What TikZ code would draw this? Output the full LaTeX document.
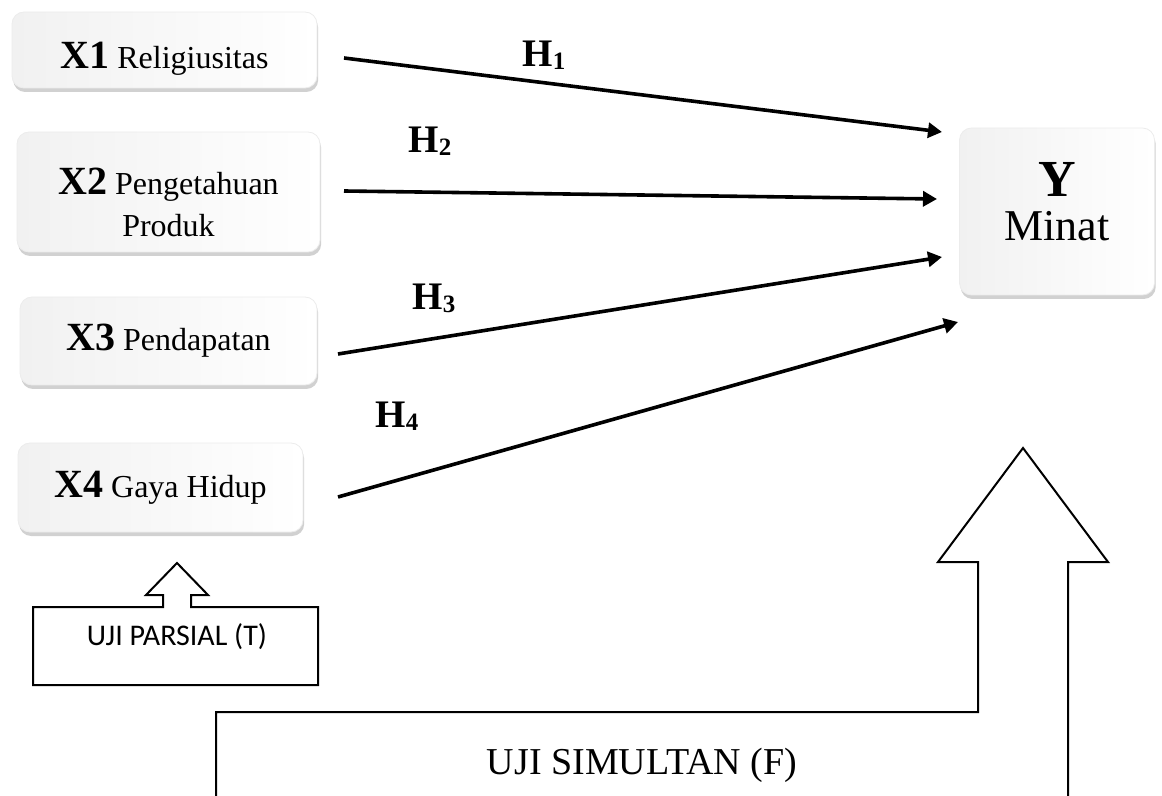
\documentclass[tikz,border=0pt]{standalone}
\usepackage{fontspec}
\setmainfont{Liberation Serif}
\newfontfamily\calibri{Carlito}
\usepackage{tikz}
\usetikzlibrary{arrows.meta,calc,shadows}

\tikzset{
    varbox/.style={rounded corners=6pt, draw=gray!15, line width=0.4pt,
        left color=gray!11, middle color=white, right color=white,
        drop shadow={shadow xshift=0.6pt, shadow yshift=-2pt, opacity=0.45, fill=gray!80},
        align=center, inner sep=0pt, font=\fontsize{16}{21}\selectfont},
    hyp/.style={line width=1.8pt, -{Triangle[length=7pt,width=7.5pt]}},
    hlabel/.style={anchor=base, font=\fontsize{19.5}{22}\selectfont\bfseries},
    outline/.style={line width=1pt, line join=miter}
}
\newcommand{\hsub}[1]{\raisebox{-1.3pt}{\fontsize{12.5}{14}\selectfont #1}}
\newcommand{\xvar}[1]{{\fontsize{20}{21}\selectfont\bfseries #1}}

\begin{document}
\begin{tikzpicture}[x=0.5pt,y=-0.5pt]
    \useasboundingbox (0,0) rectangle (1162,796);
    \node[varbox, minimum width=152.5pt, minimum height=38pt,
        text height=19pt, text depth=0pt] (x1) at (164.5,50)
        {\xvar{X1} Religiusitas};
    \node[varbox, minimum width=151.5pt, minimum height=60pt,
        text height=44.5pt] (x2) at (168.5,192)
        {\xvar{X2} Pengetahuan\\Produk};
    \node[varbox, minimum width=148.5pt, minimum height=44pt] (x3) at (168.5,341)
        {\xvar{X3} Pendapatan};
    \node[varbox, minimum width=142.5pt, minimum height=44.5pt] (x4) at (160.5,487.5)
        {\xvar{X4} Gaya Hidup};
    \node[varbox, minimum width=97.5pt, minimum height=83.5pt, text depth=10pt,
        font=\fontsize{22}{22}\selectfont] (y) at (1057,211.5)
        {{\fontsize{26}{26}\selectfont\bfseries Y}\\Minat};
    \coordinate (h1a) at (344,58);
    \coordinate (h1b) at (942,132);
    \coordinate (h2a) at (344,191);
    \coordinate (h2b) at (937,199);
    \coordinate (h3a) at (338,354);
    \coordinate (h3b) at (942,257);
    \coordinate (h4a) at (338,497);
    \coordinate (h4b) at (958,322);
    \draw[hyp] (h1a) -- (h1b);
    \draw[hyp] (h2a) -- (h2b);
    \draw[hyp] (h3a) -- (h3b);
    \draw[hyp] (h4a) -- (h4b);
    \node[hlabel] (h1) at (544,67) {H\hsub{1}};
    \node[hlabel] (h2) at (430,153) {H\hsub{2}};
    \node[hlabel] (h3) at (434,310) {H\hsub{3}};
    \node[hlabel] (h4) at (397,428) {H\hsub{4}};
    \draw[outline] (33,607) -- (163,607) -- (163,595) -- (146,595) -- (177,563)
        -- (208,595) -- (191,595) -- (191,607) -- (318,607) -- (318,685)
        -- (33,685) -- cycle;
    \node[font=\calibri\fontsize{15}{16}\selectfont] (parsial) at (177,637) {UJI PARSIAL (T)};
    \draw[outline] (216,796) -- (216,712) -- (978,712) -- (978,562) -- (938,562)
        -- (1023,448) -- (1108,562) -- (1068,562) -- (1068,796);
    \node[font=\fontsize{19}{21}\selectfont] (simultan) at (642,765) {UJI SIMULTAN (F)};
\end{tikzpicture}
\end{document}
